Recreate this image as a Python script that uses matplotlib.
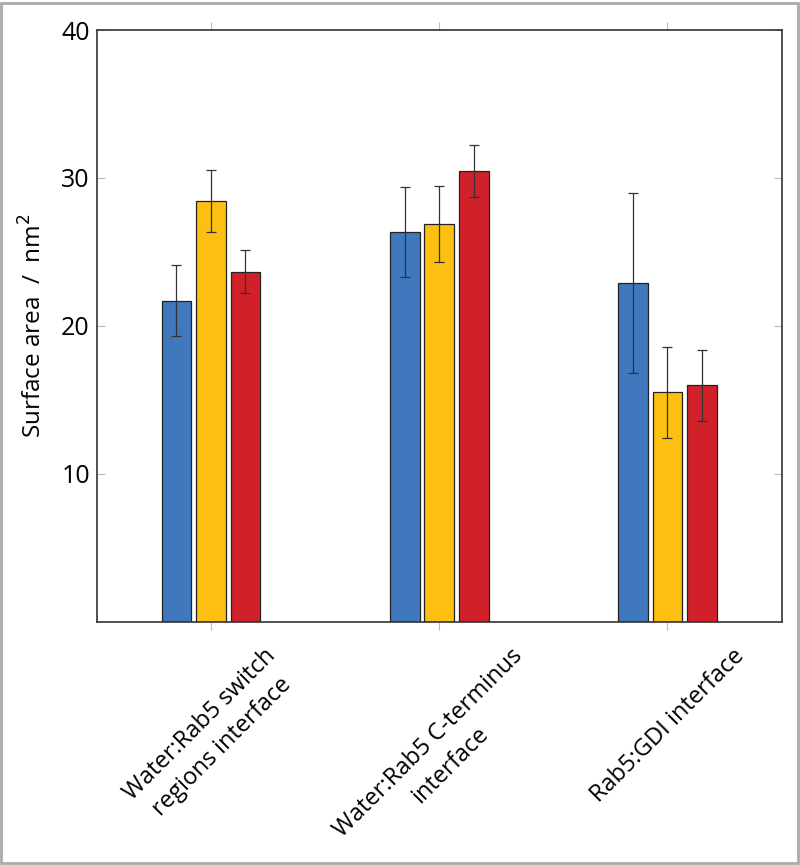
import numpy as np
import matplotlib
matplotlib.use("Agg")
from matplotlib import pyplot as plt
from matplotlib.patches import Rectangle

plt.rcParams['font.family'] = ['Open Sans', 'DejaVu Sans']

# 数据
categories = ['Water:Rab5 switch\nregions interface',
              'Water:Rab5 C-terminus\ninterface',
              'Rab5:GDI interface']
blue_vals = [21.7, 26.35, 22.9]
blue_err = [2.4, 3.05, 6.1]
yellow_vals = [28.45, 26.9, 15.5]
yellow_err = [2.1, 2.55, 3.1]
red_vals = [23.65, 30.45, 16.0]
red_err = [1.45, 1.75, 2.4]
yticks = [10, 20, 30, 40]

colors = ['#3F78BD', '#FDBF12', '#D0202A']
series = [(blue_vals, blue_err), (yellow_vals, yellow_err), (red_vals, red_err)]

fig = plt.figure(figsize=(8, 8.65), dpi=100)
ax = fig.add_axes([0.121, 0.2813, 0.856, 0.684])

x = np.arange(len(categories))
step = 0.151
width = 0.13
for i, (vals, errs) in enumerate(series):
    ax.bar(x + (i - 1) * step, vals, width, color=colors[i],
           edgecolor='#222222', linewidth=0.9, zorder=2)
    ax.errorbar(x + (i - 1) * step, vals, yerr=errs, fmt='none',
                ecolor='#333333', elinewidth=0.9, capsize=3.5,
                capthick=0.9, zorder=3)

ax.set_xlim(-0.5, 2.5)
ax.set_ylim(0, 40)
ax.set_yticks(yticks)
ax.set_yticklabels([str(t) for t in yticks], fontsize=18)
ax.set_xticks(x)
ax.set_xticklabels(categories, rotation=45, ha='center', va='top',
                   fontsize=17, multialignment='center', linespacing=1.4)
ax.tick_params(axis='y', direction='in', length=6, width=0.8,
               color='#bbbbbb', right=True, pad=5)
ax.tick_params(axis='x', direction='out', length=6, width=0.8,
               color='#bbbbbb', top=True, pad=10)
ax.set_ylabel('Surface area  /  nm$^2$', fontsize=17.5, labelpad=10)

for s in ax.spines.values():
    s.set_color('#333333')
    s.set_linewidth(1.2)

# 外框
fig.patches.append(Rectangle((0.001, 0.002), 0.997, 0.995, transform=fig.transFigure,
                             fill=False, edgecolor='#aaaaaa', linewidth=2))

fig.savefig('out.png', dpi=100)
